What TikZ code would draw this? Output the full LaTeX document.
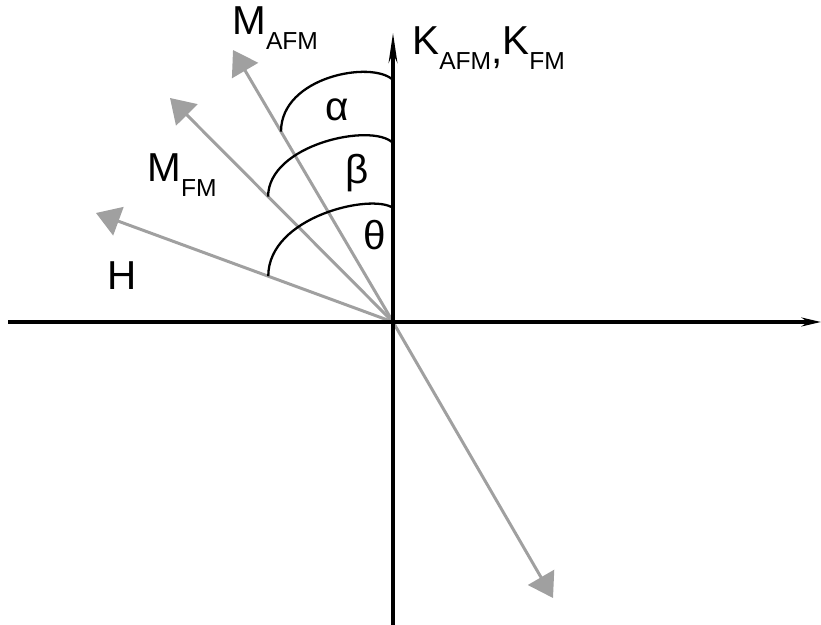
\documentclass[tikz,border=0pt]{standalone}
\usepackage{fontspec}
\setmainfont{Liberation Sans}
\usetikzlibrary{arrows.meta,calc}
\definecolor{vecgray}{RGB}{160,160,160}
\newcommand{\subtxt}[1]{\raisebox{-8pt}{\fontsize{14}{14}\selectfont #1}}

\begin{document}
\begin{tikzpicture}[x=0.02cm, y=0.02cm, every node/.style={font=\fontsize{23}{23}\selectfont, inner sep=0pt},
    axis/.style={line width=2pt, black},
    vec/.style={line width=1.7pt, vecgray, -{Triangle[length=13.6pt,width=17pt]}},
    angarc/.style={line width=1.3pt, black}]
    \useasboundingbox (0,0) rectangle (821,625);
    % Origin and vector tips
    \coordinate (O) at (393,303);
    \coordinate (mafm) at (233,575);
    \coordinate (mfm) at (170,527);
    \coordinate (hh) at (96,412);
    \coordinate (mafmdown) at (553,27);

    % Vectors
    \draw[vec] (O) -- (mafm);
    \draw[vec] (O) -- (mfm);
    \draw[vec] (O) -- (hh);
    \draw[vec] (O) -- (mafmdown);

    % Axes
    \coordinate (xl) at (8,303);
    \coordinate (xr) at (821,303);
    \coordinate (yb) at (393,0);
    \coordinate (yt) at (393,592);
    \draw[axis, -{Stealth[length=11pt,width=5pt]}] (xl) -- (xr);
    \draw[axis, -{Stealth[length=17pt,width=5pt]}] (yb) -- (yt);

    % Angle arcs
    \coordinate (aleft) at ($(O)!0.70!(mafm)$);
    \coordinate (aright) at (393,545);
    \coordinate (bleft) at ($(O)!0.56!(mfm)$);
    \coordinate (bright) at (393,482);
    \coordinate (tleft) at ($(O)!0.42!(hh)$);
    \coordinate (tright) at (393,417);
    \draw[angarc] (aleft) .. controls +(0,55) and +(-21,20) .. (aright);
    \draw[angarc] (bleft) .. controls +(0,52) and +(-21,21) .. (bright);
    \draw[angarc] (tleft) .. controls +(0,60) and +(-21,15) .. (tright);

    % Labels
    \node[anchor=base west] (lmafm) at (232,590) {M\subtxt{AFM}};
    \node[anchor=base west] (lk) at (412,570) {K\subtxt{AFM}\raisebox{-5pt}{,}K\subtxt{FM}};
    \node[anchor=base west] (lmfm) at (147,443) {M\subtxt{FM}};
    \node[anchor=base west] (lh) at (107,335) {H};
    \node (lalpha) at (337,515) {α};
    \node (lbeta) at (357,452) {β};
    \node (ltheta) at (375,390) {θ};
\end{tikzpicture}
\end{document}
